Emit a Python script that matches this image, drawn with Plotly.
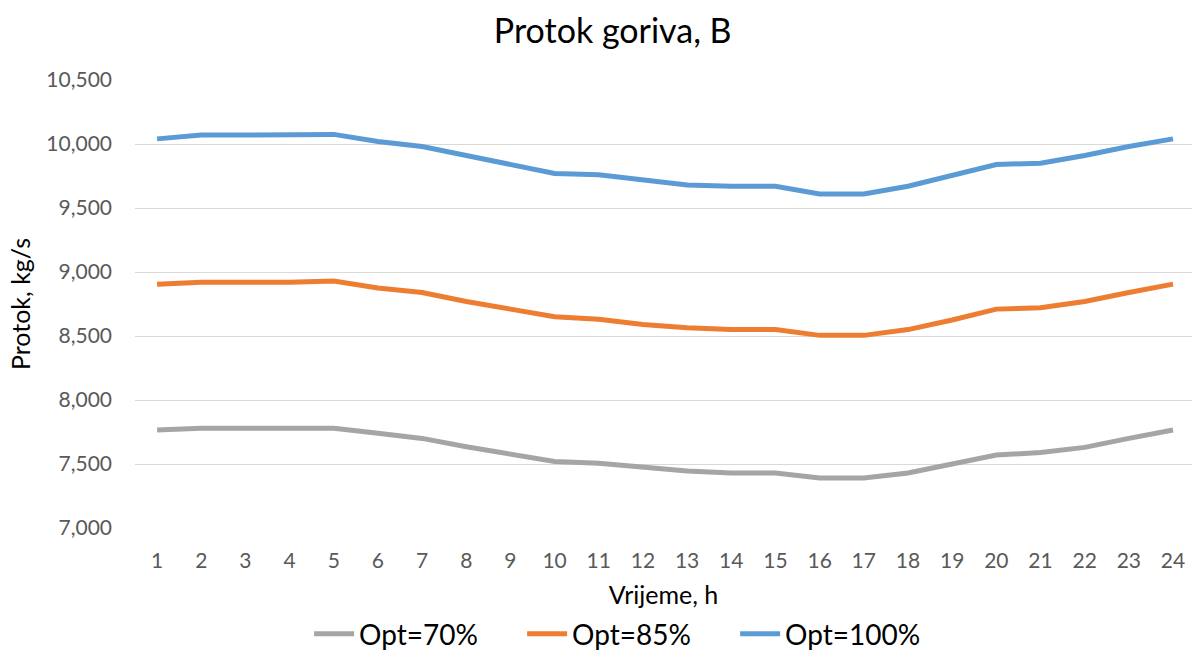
import plotly.graph_objects as go

# Hours of the day (category axis)
hours = list(range(1, 25))

# Fuel flow, kg/s, for the three optimisation levels
opt_70 = [7765, 7780, 7780, 7780, 7780, 7740, 7700, 7635, 7575, 7520, 7505, 7475,
          7445, 7430, 7430, 7390, 7390, 7430, 7500, 7570, 7590, 7630, 7700, 7765]
opt_85 = [8905, 8920, 8920, 8920, 8930, 8875, 8840, 8770, 8710, 8650, 8630, 8590,
          8565, 8550, 8550, 8505, 8505, 8550, 8625, 8710, 8720, 8770, 8840, 8905]
opt_100 = [10040, 10070, 10070, 10070, 10075, 10020, 9980, 9910, 9840, 9770, 9760, 9720,
           9680, 9670, 9670, 9610, 9610, 9670, 9760, 9840, 9850, 9910, 9980, 10040]

series_names = ["Opt=70%", "Opt=85%", "Opt=100%"]
series_values = [opt_70, opt_85, opt_100]
series_colors = ["#A5A5A5", "#ED7D31", "#5B9BD5"]

y_ticks = [7000, 7500, 8000, 8500, 9000, 9500, 10000, 10500]
y_tick_labels = ["7,000", "7,500", "8,000", "8,500", "9,000", "9,500", "10,000", "10,500"]

FONT = "Lato, 'Open Sans', sans-serif"

fig = go.Figure()
for name, vals, col in zip(series_names, series_values, series_colors):
    fig.add_trace(go.Scatter(
        x=hours, y=vals, name=name, mode="lines",
        line=dict(color=col, width=5),
    ))

fig.update_layout(
    width=1192, height=651,
    margin=dict(l=135, r=0, t=80, b=123, autoexpand=False),
    paper_bgcolor="white", plot_bgcolor="white",
    font=dict(family=FONT, color="#595959"),
    title=dict(
        text="Protok goriva, B", x=0.514, xanchor="center",
        y=1 - 31 / 651, yanchor="middle", yref="container",
        font=dict(size=34, color="#000000", family=FONT),
    ),
    xaxis=dict(
        range=[0.5, 24.43], tickmode="array", tickvals=hours,
        ticktext=[str(h) for h in hours],
        showgrid=False, showline=False, zeroline=False,
        ticks="", ticklabelstandoff=18, automargin=False,
        tickfont=dict(size=21, color="#595959"),
        title=dict(text="Vrijeme, h", font=dict(size=25, color="#000000"), standoff=18),
    ),
    yaxis=dict(
        range=[7000, 10500], tickmode="array", tickvals=y_ticks, ticktext=y_tick_labels,
        showgrid=True, gridcolor="#D9D9D9", gridwidth=1.3,
        zeroline=False, showline=False, ticks="", ticklabelstandoff=22, automargin=False,
        tickfont=dict(size=21, color="#595959"),
        title=dict(text="Protok, kg/s", font=dict(size=25, color="#000000"), standoff=8),
    ),
    legend=dict(
        orientation="h", x=0.467, xanchor="center",
        yref="container", y=1 - 634 / 651, yanchor="middle",
        font=dict(size=28, color="#000000"), itemwidth=40,
        entrywidth=158, entrywidthmode="pixels",
        tracegroupgap=0,
    ),
    showlegend=True,
)

fig.write_html("out.html")
